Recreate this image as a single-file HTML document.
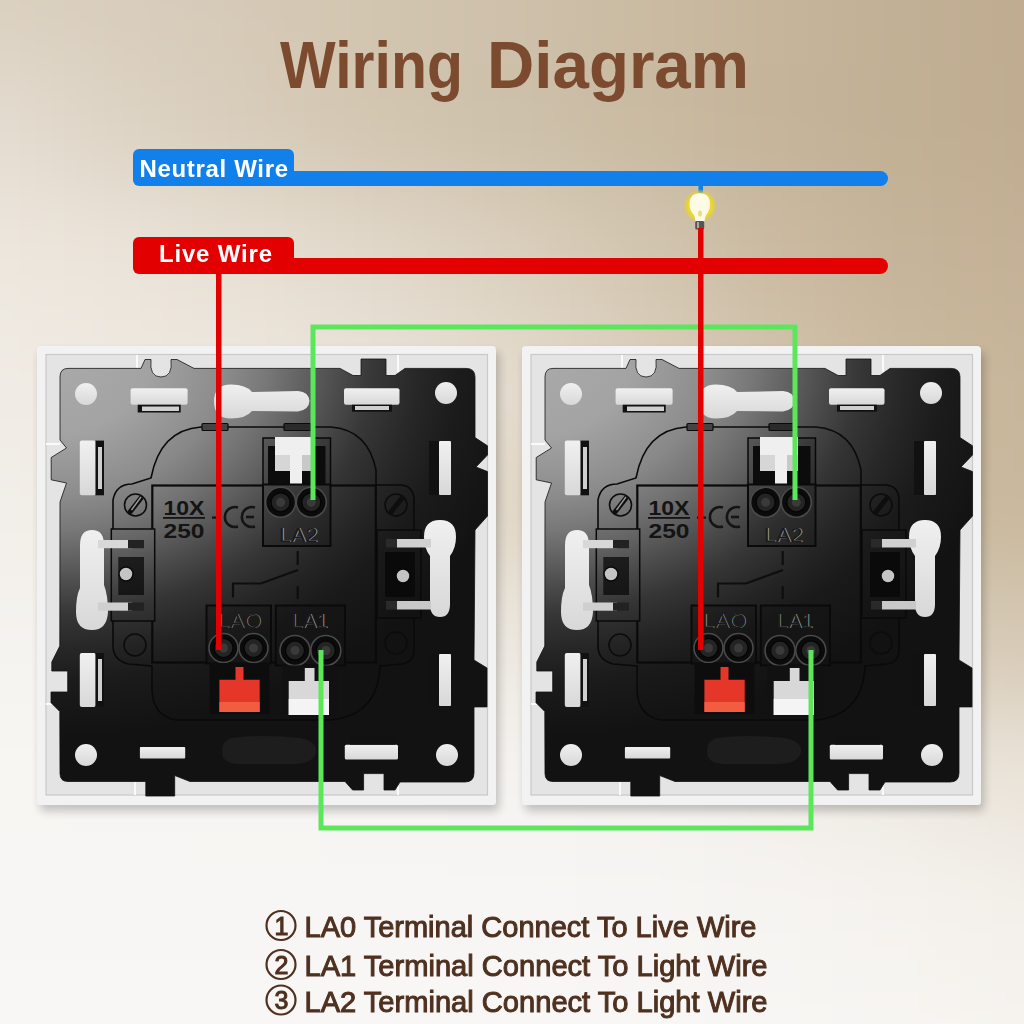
<!DOCTYPE html>
<html><head><meta charset="utf-8">
<style>
html,body{margin:0;padding:0;width:1024px;height:1024px;overflow:hidden;}
body{position:relative;font-family:"Liberation Sans",sans-serif;}
.bgwrap{position:absolute;left:0;top:0;width:1024px;height:1024px;overflow:hidden;}
.bggrid{position:absolute;left:-128px;top:-128px;width:1280px;height:1280px;filter:blur(48px);}
.bggrid i{position:absolute;width:128px;height:128px;display:block;}
svg{position:absolute;left:0;top:0;}
</style></head><body>
<div class="bgwrap"><div class="bggrid"><i style="left:64px;top:64px;background:#dad0c0"></i><i style="left:192px;top:64px;background:#d8cdbc"></i><i style="left:320px;top:64px;background:#d5c9b6"></i><i style="left:448px;top:64px;background:#d2c5b0"></i><i style="left:576px;top:64px;background:#cec0aa"></i><i style="left:704px;top:64px;background:#cabba3"></i><i style="left:832px;top:64px;background:#c6b59b"></i><i style="left:960px;top:64px;background:#c2b096"></i><i style="left:1088px;top:64px;background:#bfac90"></i><i style="left:-64px;top:64px;background:#dad0c0"></i><i style="left:1216px;top:64px;background:#bfac90"></i><i style="left:64px;top:192px;background:#e4dcd0"></i><i style="left:192px;top:192px;background:#ddd3c4"></i><i style="left:320px;top:192px;background:#d7ccb9"></i><i style="left:448px;top:192px;background:#d2c5b0"></i><i style="left:576px;top:192px;background:#cdc0a9"></i><i style="left:704px;top:192px;background:#c9baa1"></i><i style="left:832px;top:192px;background:#c5b49a"></i><i style="left:960px;top:192px;background:#c2b094"></i><i style="left:1088px;top:192px;background:#c0ad91"></i><i style="left:-64px;top:192px;background:#e4dcd0"></i><i style="left:1216px;top:192px;background:#c0ad91"></i><i style="left:64px;top:320px;background:#ede7de"></i><i style="left:192px;top:320px;background:#ebe4da"></i><i style="left:320px;top:320px;background:#e7dfd3"></i><i style="left:448px;top:320px;background:#e1d8ca"></i><i style="left:576px;top:320px;background:#dbd0be"></i><i style="left:704px;top:320px;background:#d3c6b1"></i><i style="left:832px;top:320px;background:#cbbba2"></i><i style="left:960px;top:320px;background:#c6b49a"></i><i style="left:1088px;top:320px;background:#c4b196"></i><i style="left:-64px;top:320px;background:#ede7de"></i><i style="left:1216px;top:320px;background:#c4b196"></i><i style="left:64px;top:448px;background:#f0ebe4"></i><i style="left:192px;top:448px;background:#efe9e1"></i><i style="left:320px;top:448px;background:#ede7de"></i><i style="left:448px;top:448px;background:#e9e2d8"></i><i style="left:576px;top:448px;background:#e4dccf"></i><i style="left:704px;top:448px;background:#dcd0bf"></i><i style="left:832px;top:448px;background:#d2c4ae"></i><i style="left:960px;top:448px;background:#cbba9f"></i><i style="left:1088px;top:448px;background:#c8b69b"></i><i style="left:-64px;top:448px;background:#f0ebe4"></i><i style="left:1216px;top:448px;background:#c8b69b"></i><i style="left:64px;top:576px;background:#f2eee9"></i><i style="left:192px;top:576px;background:#f0ece6"></i><i style="left:320px;top:576px;background:#ede8e0"></i><i style="left:448px;top:576px;background:#e7e0d5"></i><i style="left:576px;top:576px;background:#e0d6c6"></i><i style="left:704px;top:576px;background:#d7cab6"></i><i style="left:832px;top:576px;background:#d0c2ab"></i><i style="left:960px;top:576px;background:#cbba9f"></i><i style="left:1088px;top:576px;background:#c9b89d"></i><i style="left:-64px;top:576px;background:#f2eee9"></i><i style="left:1216px;top:576px;background:#c9b89d"></i><i style="left:64px;top:704px;background:#f5f3ef"></i><i style="left:192px;top:704px;background:#f4f1ed"></i><i style="left:320px;top:704px;background:#f2efea"></i><i style="left:448px;top:704px;background:#f0ece6"></i><i style="left:576px;top:704px;background:#ece7df"></i><i style="left:704px;top:704px;background:#e7e0d4"></i><i style="left:832px;top:704px;background:#dfd5c5"></i><i style="left:960px;top:704px;background:#d8ccb9"></i><i style="left:1088px;top:704px;background:#d6c9b5"></i><i style="left:-64px;top:704px;background:#f5f3ef"></i><i style="left:1216px;top:704px;background:#d6c9b5"></i><i style="left:64px;top:832px;background:#f7f6f3"></i><i style="left:192px;top:832px;background:#f7f5f3"></i><i style="left:320px;top:832px;background:#f6f5f2"></i><i style="left:448px;top:832px;background:#f6f4f1"></i><i style="left:576px;top:832px;background:#f5f3f0"></i><i style="left:704px;top:832px;background:#f4f2ee"></i><i style="left:832px;top:832px;background:#f1eee9"></i><i style="left:960px;top:832px;background:#ede8e0"></i><i style="left:1088px;top:832px;background:#e9e2d7"></i><i style="left:-64px;top:832px;background:#f7f6f3"></i><i style="left:1216px;top:832px;background:#e9e2d7"></i><i style="left:64px;top:960px;background:#f7f6f4"></i><i style="left:192px;top:960px;background:#f7f6f4"></i><i style="left:320px;top:960px;background:#f7f6f4"></i><i style="left:448px;top:960px;background:#f7f6f4"></i><i style="left:576px;top:960px;background:#f7f6f4"></i><i style="left:704px;top:960px;background:#f7f5f3"></i><i style="left:832px;top:960px;background:#f6f4f1"></i><i style="left:960px;top:960px;background:#f5f2ee"></i><i style="left:1088px;top:960px;background:#f3efe9"></i><i style="left:-64px;top:960px;background:#f7f6f4"></i><i style="left:1216px;top:960px;background:#f3efe9"></i><i style="left:64px;top:1088px;background:#f8f7f5"></i><i style="left:192px;top:1088px;background:#f8f7f5"></i><i style="left:320px;top:1088px;background:#f8f7f5"></i><i style="left:448px;top:1088px;background:#f8f7f5"></i><i style="left:576px;top:1088px;background:#f8f7f5"></i><i style="left:704px;top:1088px;background:#f8f7f5"></i><i style="left:832px;top:1088px;background:#f7f6f4"></i><i style="left:960px;top:1088px;background:#f7f5f2"></i><i style="left:1088px;top:1088px;background:#f6f3ef"></i><i style="left:-64px;top:1088px;background:#f8f7f5"></i><i style="left:1216px;top:1088px;background:#f6f3ef"></i><i style="left:64px;top:-64px;background:#dad0c0"></i><i style="left:64px;top:1216px;background:#f8f7f5"></i><i style="left:192px;top:-64px;background:#d8cdbc"></i><i style="left:192px;top:1216px;background:#f8f7f5"></i><i style="left:320px;top:-64px;background:#d5c9b6"></i><i style="left:320px;top:1216px;background:#f8f7f5"></i><i style="left:448px;top:-64px;background:#d2c5b0"></i><i style="left:448px;top:1216px;background:#f8f7f5"></i><i style="left:576px;top:-64px;background:#cec0aa"></i><i style="left:576px;top:1216px;background:#f8f7f5"></i><i style="left:704px;top:-64px;background:#cabba3"></i><i style="left:704px;top:1216px;background:#f8f7f5"></i><i style="left:832px;top:-64px;background:#c6b59b"></i><i style="left:832px;top:1216px;background:#f7f6f4"></i><i style="left:960px;top:-64px;background:#c2b096"></i><i style="left:960px;top:1216px;background:#f7f5f2"></i><i style="left:1088px;top:-64px;background:#bfac90"></i><i style="left:1088px;top:1216px;background:#f6f3ef"></i><i style="left:-64px;top:-64px;background:#dad0c0"></i><i style="left:1216px;top:-64px;background:#bfac90"></i><i style="left:-64px;top:1216px;background:#f8f7f5"></i><i style="left:1216px;top:1216px;background:#f6f3ef"></i></div></div>
<svg width="1024" height="1024" viewBox="0 0 1024 1024">
<defs>
  <radialGradient id="plateG" gradientUnits="userSpaceOnUse" cx="50" cy="360" r="420" gradientTransform="translate(50 360) scale(1.15 0.9) translate(-50 -360)"><stop offset="0" stop-color="#aaaaaa"/><stop offset="0.2" stop-color="#a3a3a3"/><stop offset="0.36" stop-color="#8c8c8c"/><stop offset="0.45" stop-color="#787878"/><stop offset="0.51" stop-color="#666666"/><stop offset="0.59" stop-color="#4e4e4e"/><stop offset="0.67" stop-color="#373737"/><stop offset="0.77" stop-color="#262626"/><stop offset="0.85" stop-color="#1b1b1b"/><stop offset="1" stop-color="#121212"/></radialGradient>
  <radialGradient id="houseG" gradientUnits="userSpaceOnUse" cx="50" cy="360" r="420" gradientTransform="translate(50 360) scale(1.15 0.9) translate(-50 -360)"><stop offset="0" stop-color="#a4a4a4"/><stop offset="0.2" stop-color="#9d9d9d"/><stop offset="0.36" stop-color="#888888"/><stop offset="0.45" stop-color="#737373"/><stop offset="0.51" stop-color="#636363"/><stop offset="0.59" stop-color="#4b4b4b"/><stop offset="0.67" stop-color="#353535"/><stop offset="0.77" stop-color="#242424"/><stop offset="0.85" stop-color="#1a1a1a"/><stop offset="1" stop-color="#121212"/></radialGradient>
  <radialGradient id="labelG" gradientUnits="userSpaceOnUse" cx="50" cy="360" r="420" gradientTransform="translate(50 360) scale(1.15 0.9) translate(-50 -360)"><stop offset="0" stop-color="#a2a2a2"/><stop offset="0.2" stop-color="#9c9c9c"/><stop offset="0.36" stop-color="#868686"/><stop offset="0.45" stop-color="#727272"/><stop offset="0.51" stop-color="#616161"/><stop offset="0.59" stop-color="#4a4a4a"/><stop offset="0.67" stop-color="#353535"/><stop offset="0.77" stop-color="#242424"/><stop offset="0.85" stop-color="#1a1a1a"/><stop offset="1" stop-color="#121212"/></radialGradient>
  <radialGradient id="blockG" gradientUnits="userSpaceOnUse" cx="50" cy="360" r="420" gradientTransform="translate(50 360) scale(1.15 0.9) translate(-50 -360)"><stop offset="0" stop-color="#898989"/><stop offset="0.2" stop-color="#838383"/><stop offset="0.36" stop-color="#717171"/><stop offset="0.45" stop-color="#606060"/><stop offset="0.51" stop-color="#525252"/><stop offset="0.59" stop-color="#3e3e3e"/><stop offset="0.67" stop-color="#2c2c2c"/><stop offset="0.77" stop-color="#1e1e1e"/><stop offset="0.85" stop-color="#161616"/><stop offset="1" stop-color="#121212"/></radialGradient>
  <linearGradient id="holeG" x1="0" y1="0" x2="0" y2="1">
    <stop offset="0" stop-color="#f0f0f0"/>
    <stop offset="1" stop-color="#d8d8d8"/>
  </linearGradient>
  <filter id="shadow" x="-10%" y="-10%" width="130%" height="130%">
    <feGaussianBlur in="SourceAlpha" stdDeviation="5"/>
    <feOffset dx="3" dy="6"/>
    <feComponentTransfer><feFuncA type="linear" slope="0.22"/></feComponentTransfer>
    <feMerge><feMergeNode/><feMergeNode in="SourceGraphic"/></feMerge>
  </filter>
  <radialGradient id="glow" cx="0.5" cy="0.5" r="0.5">
    <stop offset="0" stop-color="#f2e23a" stop-opacity="1"/>
    <stop offset="0.7" stop-color="#ecd82a" stop-opacity="1"/>
    <stop offset="1" stop-color="#e8d030" stop-opacity="0"/>
  </radialGradient>
</defs>

<!-- PANELS -->
<g id="panel">
  <!-- frame -->
  <rect x="37" y="346" width="459" height="459" rx="4" fill="#f2f2f2" filter="url(#shadow)"/>
  <rect x="46" y="354.5" width="441.5" height="440.5" fill="#e4e4e4" stroke="#c9c9c9" stroke-width="1.2"/>
  <g stroke="#fafafa" stroke-width="2">
    <line x1="137" y1="355" x2="137" y2="372"/>
    <line x1="398" y1="355" x2="398" y2="372"/>
    <line x1="135" y1="778" x2="135" y2="795"/>
    <line x1="398" y1="778" x2="398" y2="795"/>
    <line x1="46" y1="444" x2="60" y2="444"/>
    <line x1="46" y1="704" x2="58" y2="704"/>
    <line x1="475" y1="446" x2="487" y2="446"/>
    <line x1="475" y1="707" x2="487" y2="707"/>
  </g>
  <!-- plate -->
  <path fill="url(#plateG)" stroke="#111" stroke-width="0.8" d="M68 368.4 L141 368.4 L145 359.5 L151 359.5 Q149 377 161 377 Q173 377 171 359.5 L177 359.5 L194 368.4
   L340 368.4 L353 375.5 L361 375.5 L361 359 L386 359 L386 375.5 L395 375.5 L405 368.4 L466 368.4 Q475 368.4 475 377
   L475 437.6 L487.5 445.8 L487.5 455 L476 467 L487.5 471.6 L487.5 516 L475 530 L474 660 L487 668 L487 707 L474 707 L474 773 Q474 782 465 782
   L400 782 L395 790 L384 790 L384 773.6 L363.6 773.6 L363.6 790 L352.6 790 L345 781.5
   L190 781.5 L174.7 775.5 L174.7 796 L145.8 796 L145.8 781.5 L68 781.5 Q60 781.5 60 773.5
   L59.8 711.5 L51 702.7 L51 692 L67.7 692 L67.7 671 L51.8 671 L51.8 662 L59.8 646
   L60 502 L66.5 483 L51.2 479.8 L51.2 457.5 L66.5 448 L60 440 L60 377 Q60 368.4 68 368.4 Z"/>
  <!-- holes -->
  <g fill="url(#holeG)">
    <circle cx="86" cy="394" r="11"/>
    <circle cx="446" cy="393" r="11"/>
    <circle cx="86" cy="755" r="11"/>
    <circle cx="447" cy="755" r="11"/>
    <rect x="130.6" y="388.3" width="57" height="16.4" rx="2"/>
    <rect x="344" y="388.3" width="55.5" height="16.4" rx="2"/>
    <rect x="139.9" y="747" width="45.3" height="11.4" rx="1"/>
    <rect x="344.8" y="744.7" width="53.2" height="14.8" rx="1.5"/>
    <rect x="79.8" y="440.6" width="16" height="54.7" rx="2"/>
    <rect x="79.8" y="653" width="16" height="54" rx="2"/>
    <rect x="439" y="441" width="12" height="54" rx="1"/>
    <rect x="439" y="654" width="12" height="52" rx="1"/>
    <path d="M231 384.5 Q246 384.5 252 392 L298 391 Q309 392 309.5 401 Q309 410 298 411.5 L252 411 Q246 418.5 231 418.5 Q214 418.5 214 401.5 Q214 384.5 231 384.5 Z"/>
    <path d="M92 530 Q104 530 104 545 L104 585 Q108 595 108 612 Q107 630 92 630 Q76 630 76 612 Q76 596 80 588 L80 545 Q80 530 92 530 Z"/>
    <path d="M440 520 Q456 520 456 537 Q456 548 450 556 L450 604 Q450 617 440 617 Q430 617 430 604 L430 556 Q424 548 424 537 Q424 520 440 520 Z"/>
  </g>
  <!-- slot inner details -->
  <g fill="#111">
    <rect x="137.7" y="404.7" width="43" height="7.8"/>
    <rect x="95.5" y="440.6" width="8.5" height="54.7"/>
    <rect x="95.5" y="653" width="8.5" height="54"/>
    <rect x="429" y="441" width="10" height="54"/>
    <rect x="428" y="654" width="11" height="52"/>
    <rect x="137" y="738" width="49" height="9"/>
    <rect x="350" y="737" width="45" height="7.7"/>
    <rect x="352" y="404.7" width="40" height="7"/>
  </g>
  <g fill="#cfcfcf">
    <rect x="142" y="406.5" width="37" height="4.5"/>
    <rect x="98" y="447" width="4" height="42"/>
    <rect x="98" y="659" width="4" height="42"/>
    <rect x="355" y="406" width="34" height="4"/>
  </g>
  <!-- bottom embossed oval -->
  <path d="M232 738 Q260 734 300 738 Q318 742 316 752 Q314 764 292 764 L240 764 Q222 764 222 752 Q222 740 232 738 Z" fill="#1d1d1d"/>
  <!-- housing -->
  <path fill="url(#houseG)" stroke="#0a0a0a" stroke-width="1.6" d="M201 427 L331 427 Q368 430 376 470 L376 485 L402 485 Q414 487 414 500 L414 650 Q414 662 402 664 L380 666 Q378 715 331 720 L176 720 Q153 716 152 690 L152 666 L128 664 Q113 660 113 646 L113 500 Q116 484 132 484 L151 478 Q160 430 201 427 Z"/>
  <rect x="152.3" y="485.5" width="223.5" height="177" fill="url(#labelG)" stroke="#0a0a0a" stroke-width="2.2"/>
  <rect x="202" y="423.5" width="26" height="7" rx="1" fill="#444" stroke="#0a0a0a" stroke-width="1.2"/>
  <rect x="284" y="423.5" width="27" height="7" rx="1" fill="#2a2a2a" stroke="#0a0a0a" stroke-width="1.2"/>
  <!-- housing corner screws -->
  <g fill="none" stroke="#0c0c0c" stroke-width="1.6">
    <circle cx="135.5" cy="505" r="11"/>
    <circle cx="396" cy="505" r="11"/>
    <circle cx="135" cy="645" r="11"/>
    <circle cx="396" cy="643" r="11"/>
  </g>
  <g stroke="#0e0e0e" stroke-width="5" stroke-linecap="round">
    <line x1="130" y1="512" x2="141" y2="498"/>
    <line x1="391" y1="512" x2="402" y2="498"/>
  </g>
  <g stroke="#9a9a9a" stroke-width="1.4">
    <line x1="131.5" y1="510" x2="141" y2="497"/>
  </g>
  <!-- label text -->
  <g fill="#141414" font-family="Liberation Sans">
    <text x="163.5" y="514.8" font-size="21" font-weight="bold" textLength="41" lengthAdjust="spacingAndGlyphs">10X</text>
    <rect x="163" y="517" width="42" height="1.8"/>
    <text x="163.5" y="537.5" font-size="21" font-weight="bold" textLength="41" lengthAdjust="spacingAndGlyphs">250</text>
    <rect x="212" y="516.5" width="9" height="2.2"/>
  </g>
  <g fill="none" stroke="#141414" stroke-width="2.6">
    <path d="M238 507.5 A10 10 0 1 0 238 526.5"/>
    <path d="M255 507.5 A10 10 0 1 0 255 526.5"/>
    <line x1="246" y1="517" x2="254" y2="517"/>
  </g>
  <!-- switch symbol -->
  <g stroke="#0e0e0e" stroke-width="2.2" fill="none">
    <path d="M233 597.5 L233 583.5 L261 583.5 L298 570"/>
    <line x1="297.7" y1="551" x2="297.7" y2="565"/>
    <line x1="297.7" y1="586" x2="297.7" y2="599"/>
  </g>
  <!-- LA2 terminal -->
  <rect x="263" y="438" width="67.5" height="48" fill="url(#blockG)" stroke="#080808" stroke-width="1.5"/>
  <rect x="268" y="446" width="57.5" height="38" fill="#0c0c0c"/>
  <path fill="#efefef" d="M275 437 L313 437 L313 455 L302 455 L302 484 L290 484 L290 455 L275 455 Z"/>
  <rect x="275" y="455" width="15" height="16" fill="#d6d6d6"/>
  <rect x="302" y="455" width="11" height="16" fill="#c8c8c8"/>
  <rect x="263" y="484.5" width="67.5" height="61.5" fill="url(#blockG)" stroke="#0a0a0a" stroke-width="2"/>
  <g fill="#0b0b0b" stroke="#4a4a4a" stroke-width="1.6">
    <circle cx="280.6" cy="502.3" r="15"/>
    <circle cx="311.3" cy="502.3" r="15"/>
  </g>
  <g fill="#242424" stroke="#050505" stroke-width="1.2"><circle cx="280.6" cy="502.3" r="9.5"/><circle cx="311.3" cy="502.3" r="9.5"/></g><g fill="#3a3a3a"><circle cx="280.6" cy="502.3" r="4.5"/><circle cx="311.3" cy="502.3" r="4.5"/></g>
  <text x="279.9" y="542.4" font-family="Liberation Sans" font-size="21" fill="#9a9a9a" textLength="38.7" lengthAdjust="spacingAndGlyphs">LA2</text><text x="279" y="541.5" font-family="Liberation Sans" font-size="21" fill="#1a1a1a" textLength="38.7" lengthAdjust="spacingAndGlyphs">LA2</text>
  <!-- LA0 terminal -->
  <rect x="206.5" y="605.5" width="64.5" height="58" fill="url(#blockG)" stroke="#0a0a0a" stroke-width="2"/>
  <text x="217.9" y="628.4" font-family="Liberation Sans" font-size="20.5" fill="#8c8c8c" textLength="44" lengthAdjust="spacingAndGlyphs">LAO</text><text x="217" y="627.5" font-family="Liberation Sans" font-size="20.5" fill="#1a1a1a" textLength="44" lengthAdjust="spacingAndGlyphs">LAO</text>
  <g fill="#0b0b0b" stroke="#4a4a4a" stroke-width="1.6">
    <circle cx="223.5" cy="648" r="14.5"/>
    <circle cx="253.5" cy="648" r="14.5"/>
  </g>
  <g fill="#242424" stroke="#050505" stroke-width="1.2"><circle cx="223.5" cy="648" r="9.5"/><circle cx="253.5" cy="648" r="9.5"/></g><g fill="#3a3a3a"><circle cx="223.5" cy="648" r="4.5"/><circle cx="253.5" cy="648" r="4.5"/></g>
  <rect x="209.7" y="663" width="59.7" height="51" fill="#0d0d0d"/>
  <path fill="#e5362a" d="M235.5 667 L243.5 667 L243.5 679.7 L259.7 679.7 L259.7 712 L219.4 712 L219.4 679.7 L235.5 679.7 Z"/>
  <rect x="219.4" y="702" width="40.3" height="10" fill="#f25c40"/>
  <!-- LA1 terminal -->
  <rect x="275.8" y="605.5" width="69.2" height="60" fill="url(#blockG)" stroke="#0a0a0a" stroke-width="2"/>
  <text x="292.29999999999995" y="628.4" font-family="Liberation Sans" font-size="20.5" fill="#8c8c8c" textLength="36.3" lengthAdjust="spacingAndGlyphs">LA1</text><text x="291.4" y="627.5" font-family="Liberation Sans" font-size="20.5" fill="#1a1a1a" textLength="36.3" lengthAdjust="spacingAndGlyphs">LA1</text>
  <g fill="#0b0b0b" stroke="#4a4a4a" stroke-width="1.6">
    <circle cx="295" cy="650.5" r="15"/>
    <circle cx="325.8" cy="650.5" r="15"/>
  </g>
  <g fill="#242424" stroke="#050505" stroke-width="1.2"><circle cx="295" cy="650.5" r="9.5"/><circle cx="325.8" cy="650.5" r="9.5"/></g><g fill="#3a3a3a"><circle cx="295" cy="650.5" r="4.5"/><circle cx="325.8" cy="650.5" r="4.5"/></g>
  <rect x="282" y="665.5" width="56" height="51" fill="#111"/>
  <path fill="#d8d8d8" d="M304.8 668 L314.5 668 L314.5 681 L329 681 L329 715 L288.7 715 L288.7 681 L304.8 681 Z"/>
  <rect x="288.7" y="699" width="40.3" height="16" fill="#f4f4f4"/>
  <!-- left clamp -->
  <rect x="111.3" y="529" width="43.4" height="92" fill="url(#houseG)" stroke="#0a0a0a" stroke-width="1.5"/>
  <rect x="118.3" y="557" width="25.7" height="38" fill="#0a0a0a" fill-opacity="0.75"/>
  <rect x="98" y="540" width="34" height="8.2" fill="#d8d8d8"/>
  <rect x="128" y="540" width="16" height="8.2" fill="#222"/>
  <rect x="98" y="602.5" width="34" height="8.2" fill="#cfcfcf"/>
  <rect x="128" y="602.5" width="16" height="8.2" fill="#222"/>
  <circle cx="126" cy="574" r="7" fill="#c4c4c4" stroke="#0a0a0a" stroke-width="1.5"/>
  <!-- right clamp -->
  <rect x="377" y="530" width="44" height="88" fill="url(#houseG)" stroke="#0a0a0a" stroke-width="1.5"/>
  <rect x="385" y="552" width="30" height="45" fill="#0a0a0a"/>
  <rect x="397" y="539" width="34" height="8.5" fill="#d0d0d0"/>
  <rect x="386" y="539" width="11" height="8.5" fill="#2a2a2a"/>
  <rect x="397" y="601" width="34" height="8.5" fill="#c8c8c8"/>
  <rect x="386" y="601" width="11" height="8.5" fill="#2a2a2a"/>
  <circle cx="403" cy="576" r="7" fill="#c4c4c4" stroke="#0a0a0a" stroke-width="1.5"/>
</g>

<use href="#panel" transform="translate(485,0)"/>
<g id="wires">
  <!-- bulb -->
  <rect x="698.5" y="184" width="4.5" height="10" fill="#1280ea"/>
  <ellipse cx="700" cy="206" rx="17" ry="17" fill="url(#glow)"/>
  <path d="M699.7 193.3 Q710 193.3 710 204.5 Q710 210 706.5 214.5 Q704.5 217 704.5 221 L695.5 221 Q695.5 217 693.5 214.5 Q689.5 210 689.5 204.5 Q689.5 193.3 699.7 193.3 Z" fill="#fdfbe6"/>
  <ellipse cx="700" cy="213.5" rx="2" ry="3" fill="#e8e080"/>
  <rect x="695.2" y="221" width="9" height="8.5" rx="1.5" fill="#555"/>
  <rect x="697" y="222" width="2" height="6" fill="#aaa"/>
  <!-- green -->
  <path d="M313 500 L313 327 L795 327 L795 500" fill="none" stroke="#5ce65c" stroke-width="5"/>
  <path d="M321 650 L321 828 L811 828 L811 650" fill="none" stroke="#5ce65c" stroke-width="5"/>
  <!-- red verticals -->
  <rect x="216" y="272" width="5.5" height="378" fill="#e30000"/>
  <rect x="698" y="228" width="5.5" height="422" fill="#e30000"/>
</g>

<!-- TITLE -->
<g font-family="Liberation Sans" font-weight="bold" font-size="66" fill="#7c4b2f"><text x="280" y="88" textLength="183" lengthAdjust="spacingAndGlyphs">Wiring</text><text x="487" y="88" textLength="262" lengthAdjust="spacingAndGlyphs">Diagram</text></g>

<!-- NEUTRAL -->
<rect x="133" y="149" width="161" height="37" rx="6" fill="#1280ea"/>
<rect x="280" y="171" width="608" height="15" rx="7.5" fill="#1280ea"/>
<text x="139.5" y="177" font-family="Liberation Sans" font-weight="bold" font-size="24" fill="#fff" textLength="148.5" lengthAdjust="spacing">Neutral Wire</text>

<!-- LIVE -->
<rect x="133" y="237" width="161" height="37" rx="6" fill="#e30000"/>
<rect x="280" y="258" width="608" height="16" rx="8" fill="#e30000"/>
<text x="159" y="261.5" font-family="Liberation Sans" font-weight="bold" font-size="24" fill="#fff" textLength="113" lengthAdjust="spacing">Live Wire</text>

<!-- BOTTOM TEXT -->
<g fill="#4f3120" stroke="#4f3120" stroke-width="1.05" font-family="Liberation Sans" font-size="30">
  <circle cx="281" cy="925.5" r="14.5" fill="none" stroke-width="2.2"/>
  <text x="281.5" y="934.5" font-size="25" stroke-width="1.1" text-anchor="middle">1</text>
  <text x="304.5" y="936.5" textLength="452" lengthAdjust="spacingAndGlyphs">LA0 Terminal Connect To Live Wire</text>
  <circle cx="281" cy="964.5" r="14.5" fill="none" stroke-width="2.2"/>
  <text x="281.5" y="973.5" font-size="25" stroke-width="1.1" text-anchor="middle">2</text>
  <text x="304.5" y="976" textLength="463" lengthAdjust="spacingAndGlyphs">LA1 Terminal Connect To Light Wire</text>
  <circle cx="281" cy="1000" r="14.5" fill="none" stroke-width="2.2"/>
  <text x="281.5" y="1009" font-size="25" stroke-width="1.1" text-anchor="middle">3</text>
  <text x="304.5" y="1011.5" textLength="463" lengthAdjust="spacingAndGlyphs">LA2 Terminal Connect To Light Wire</text>
</g>
</svg>
</body></html>
